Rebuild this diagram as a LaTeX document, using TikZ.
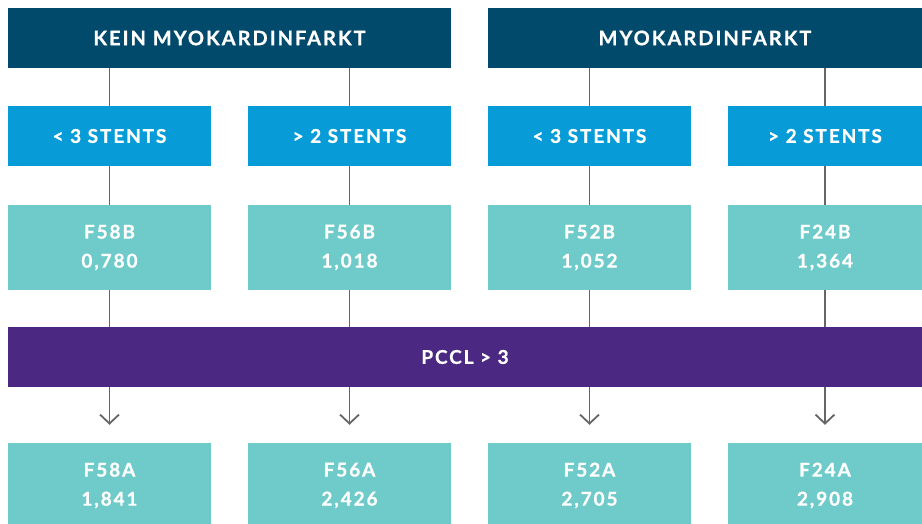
\documentclass[tikz,border=0pt]{standalone}
\usepackage{fontspec}
\usetikzlibrary{arrows.meta}
\newfontfamily\boxfont[LetterSpace=10,BoldFeatures={FakeBold=0.8}]{Lato}
\definecolor{headblue}{RGB}{1, 74, 107}
\definecolor{stentblue}{RGB}{7, 155, 216}
\definecolor{drgteal}{RGB}{111, 202, 202}
\definecolor{pcclpurple}{RGB}{75, 40, 130}
\definecolor{linegray}{RGB}{102, 102, 102}

\tikzset{
  flowbox/.style={inner sep=0pt,text=white,align=center,
    font=\boxfont\bfseries\fontsize{19}{29}\selectfont},
  hdrbox/.style={flowbox,fill=headblue,minimum height=60,
    font=\boxfont\bfseries\fontsize{20}{29}\selectfont},
  stentbox/.style={flowbox,fill=stentblue,minimum height=60},
  drgbox/.style={flowbox,fill=drgteal,minimum height=85},
  pcclband/.style={flowbox,fill=pcclpurple,minimum width=914,minimum height=60},
  conn/.style={draw=linegray,line width=1.8pt}
}

\begin{document}
\begin{tikzpicture}[x=1pt,y=1pt]
  \useasboundingbox (0,0) rectangle (922,523);
  \node[hdrbox,minimum width=443] (hdrno) at (229.5,485) {KEIN MYOKARDINFARKT};
  \node[hdrbox,minimum width=434] (hdrmi) at (705,485) {MYOKARDINFARKT};
  \node[pcclband] (pccl) at (465,166) {PCCL > 3};
  \foreach \i/\x/\w/\h/\s/\dtop/\vtop/\dbot/\vbot in {
      1/109.5/203/hdrno/{< 3}/F58B/{0,780}/F58A/{1,841},
      2/349.5/203/hdrno/{> 2}/F56B/{1,018}/F56A/{2,426},
      3/589.5/203/hdrmi/{< 3}/F52B/{1,052}/F52A/{2,705},
      4/825/194/hdrmi/{> 2}/F24B/{1,364}/F24A/{2,908}} {
    \node[stentbox,minimum width=\w] (stent\i) at (\x,387) {\s\ STENTS};
    \node[drgbox,minimum width=\w] (drg\i) at (\x,275.5) {\dtop\\\vtop};
    \node[drgbox,minimum width=\w] (drga\i) at (\x,37.5) {\dbot\\\vbot};
    \draw[conn] (stent\i.north) -- (stent\i.north |- \h.south);
    \draw[conn] (stent\i.south) -- (drg\i.north);
    \draw[conn] (drg\i.south) -- (drg\i.south |- pccl.north);
    \draw[conn,-{Straight Barb[length=9pt,width=19pt]},shorten >=18pt]
      (drga\i.north |- pccl.south) -- (drga\i.north);
  }
\end{tikzpicture}
\end{document}
